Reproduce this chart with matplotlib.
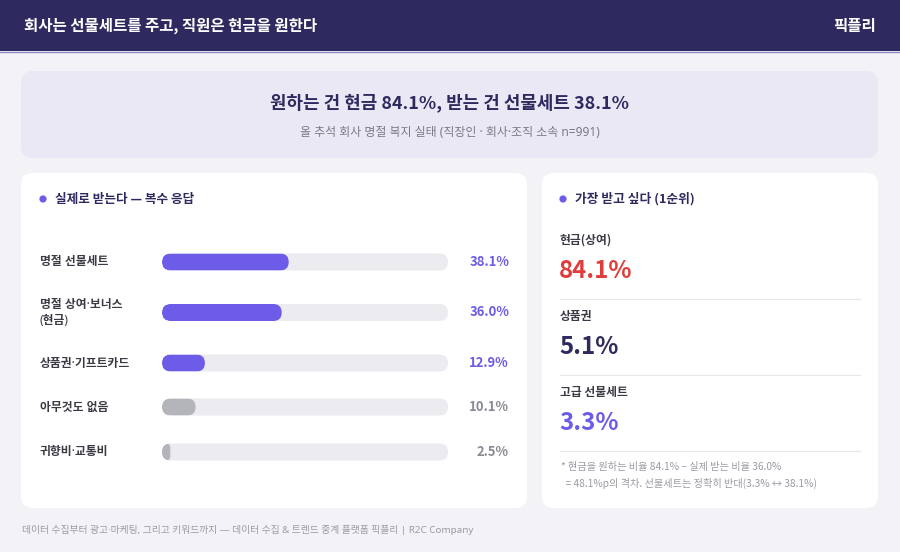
import matplotlib.pyplot as plt
from matplotlib.patches import FancyBboxPatch, Rectangle, Circle

plt.rcParams['font.family'] = ['Noto Sans CJK KR', 'DejaVu Sans']
# 가운뎃점(·)을 좁게 쓰려고 라틴 글꼴을 앞에 둠
MIXED = ['Noto Sans', 'Noto Sans CJK KR', 'DejaVu Sans']

# 텍스트
title = "회사는 선물세트를 주고, 직원은 현금을 원한다"
brand = "픽플리"
headline = "원하는 건 현금 84.1%, 받는 건 선물세트 38.1%"
subhead = "올 추석 회사 명절 복지 실태 (직장인 · 회사·조직 소속 n=991)"
left_title = "실제로 받는다 — 복수 응답"
right_title = "가장 받고 싶다 (1순위)"
footer = "데이터 수집부터 광고·마케팅, 그리고 키워드까지 — 데이터 수집 & 트렌드 중계 플랫폼 픽플리 | R2C Company"
note_lines = ["* 현금을 원하는 비율 84.1% − 실제 받는 비율 36.0%",
              "  = 48.1%p의 격차. 선물세트는 정확히 반대(3.3% ↔ 38.1%)"]

# 실제로 받는 것 (복수 응답)
received_labels = ["명절 선물세트", "명절 상여·보너스\n(현금)", "상품권·기프트카드",
                   "아무것도 없음", "귀향비·교통비"]
received_values = [38.1, 36.0, 12.9, 10.1, 2.5]
received_highlight = [True, True, True, False, False]

# 가장 받고 싶은 것 (1순위)
wanted_labels = ["현금(상여)", "상품권", "고급 선물세트"]
wanted_values = [84.1, 5.1, 3.3]

# 색
BG = '#f3f3f7'
NAVY = '#2e2a5f'
PURPLE = '#6c5ce7'
GRAY_BAR = '#b4b4bb'
TRACK = '#ebebf0'
GRAY_TXT = '#8a8a94'
LABEL = '#3a3a44'
RED = '#e03c3c'
wanted_colors = [RED, NAVY, PURPLE]

W, H = 900, 552
fig = plt.figure(figsize=(W / 100, H / 100), dpi=100, facecolor=BG)
ax = fig.add_axes([0, 0, 1, 1])
ax.set_xlim(0, W)
ax.set_ylim(H, 0)
ax.axis('off')


def card(x, y, w, h, color, r=12):
    ax.add_patch(FancyBboxPatch((x, y), w, h, boxstyle=f"round,pad=0,rounding_size={r}",
                                facecolor=color, edgecolor='none', zorder=1))


# 헤더
ax.add_patch(Rectangle((0, 0), W, 51, facecolor=NAVY, edgecolor='none', zorder=1))
ax.plot([0, W], [51.5, 51.5], color='#8d88c4', lw=1, zorder=2)
ax.text(24, 26, title, color='white', fontsize=11.2, fontweight='bold', va='center', zorder=3)
ax.text(876, 26, brand, color='white', fontsize=11.2, fontweight='bold', va='center', ha='right', zorder=3)

# 헤드라인 박스
card(21, 71, 857, 87, '#e9e8f4')
ax.text(450, 103, headline, color=NAVY, fontsize=12.9, fontweight='bold', ha='center', va='center', zorder=3)
ax.text(450, 132, subhead, color='#7a7a86', fontsize=8.6, ha='center', va='center',
        family=MIXED, zorder=3)

# 카드
card(21, 173, 506, 335, 'white')
card(542, 173, 336, 335, 'white')

for cx, txt, fs in [(43, left_title, 9.1), (563, right_title, 9.2)]:
    ax.add_patch(Circle((cx, 199), 3.6, facecolor=PURPLE, edgecolor='none', zorder=3))
    ax.text(cx + 12, 199, txt, color=NAVY, fontsize=fs, fontweight='bold', va='center', zorder=3)

# 왼쪽: 막대
row_y = [262, 312.5, 363, 407, 452]
bar_h = 17
x_max = 86
bar_px = 286
bax = fig.add_axes([162 / W, 0, bar_px / W, 1])
bax.set_xlim(0, x_max)
bax.set_ylim(H, 0)
bax.axis('off')
px = x_max / bar_px
aspect = 1 / px
r_x = (bar_h / 2) * px

for lab, val, hi, y in zip(received_labels, received_values, received_highlight, row_y):
    track = FancyBboxPatch((0, y - bar_h / 2), x_max, bar_h,
                           boxstyle=f"round,pad=0,rounding_size={r_x}",
                           mutation_aspect=aspect, facecolor=TRACK, edgecolor='none', zorder=2)
    bax.add_patch(track)
    rr = min(r_x, val / 2)
    fill = FancyBboxPatch((0, y - bar_h / 2), val, bar_h,
                          boxstyle=f"round,pad=0,rounding_size={rr}",
                          mutation_aspect=aspect, facecolor=PURPLE if hi else GRAY_BAR,
                          edgecolor='none', zorder=3)
    bax.add_patch(fill)
    fill.set_clip_path(track)
    ax.text(40, y, lab, color=LABEL, fontsize=8.5, fontweight='bold', va='center',
            linespacing=1.35, family=MIXED, zorder=3)
    ax.text(509, y, f"{val:.1f}%", color=PURPLE if hi else GRAY_TXT, fontsize=9.4,
            fontweight='bold', ha='right', va='center', zorder=3)

# 오른쪽: 1순위
label_y = [240.5, 316.5, 392.5]
for lab, val, col, y in zip(wanted_labels, wanted_values, wanted_colors, label_y):
    ax.text(560, y, lab, color=LABEL, fontsize=8.5, fontweight='bold', va='center', zorder=3)
    ax.text(559, y + 31, f"{val:.1f}%", color=col, fontsize=17.3, fontweight='bold', va='center', zorder=3)
    ax.plot([560, 860], [y + 58, y + 58], color='#e6e6ec', lw=0.8, zorder=3)

for i, line in enumerate(note_lines):
    ax.text(561, 466.5 + i * 16.5, line, color='#9a9aa4', fontsize=7.3, va='center', zorder=3)

# 푸터
ax.text(22, 530, footer, color='#9a9aa4', fontsize=7.08, va='center', family=MIXED, zorder=3)

fig.savefig('out.png', dpi=100, facecolor=BG)
